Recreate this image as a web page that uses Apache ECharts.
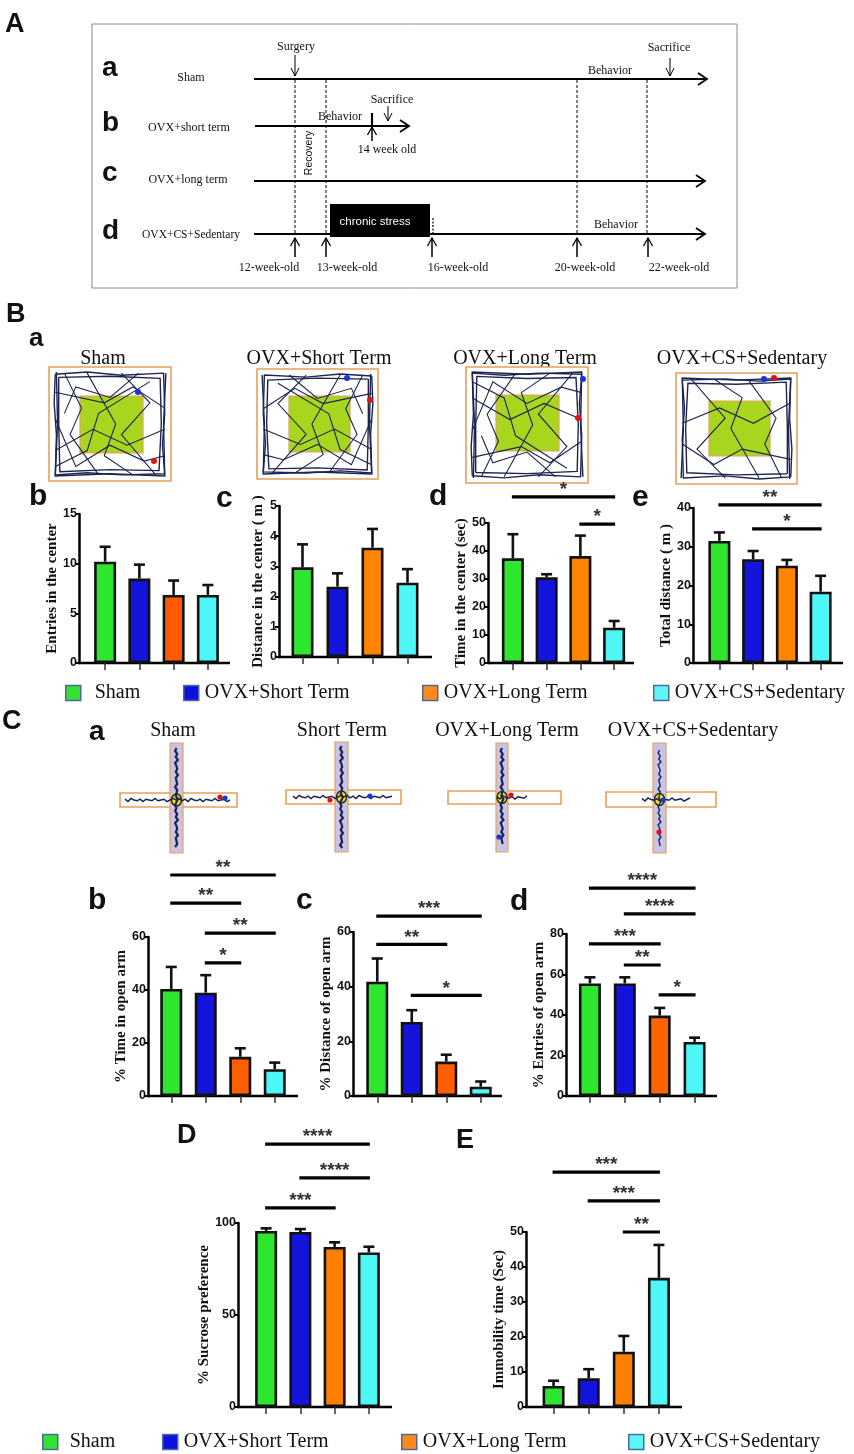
<!DOCTYPE html>
<html><head><meta charset="utf-8">
<script src="https://cdn.jsdelivr.net/npm/echarts@6/dist/echarts.min.js"></script>
<style>html,body{margin:0;padding:0;background:#fff}#c{width:854px;height:1454px}</style>
</head><body><div id="c"></div>
<script>
// ---------- data ----------
const groups = ['Sham', 'OVX+Short Term', 'OVX+Long Term', 'OVX+CS+Sedentary'];
// B: open field test
const ofEntriesMean = [10.2, 8.5, 6.85, 6.85];
const ofEntriesSem = [1.5, 1.4, 1.45, 1.0];
const ofCenterDistMean = [2.97, 2.33, 3.62, 2.46];
const ofCenterDistSem = [0.76, 0.44, 0.62, 0.45];
const ofCenterTimeMean = [37.4, 30.6, 38.2, 12.6];
const ofCenterTimeSem = [8.6, 1.1, 7.3, 2.4];
const ofTotalDistMean = [31.5, 26.8, 25.1, 18.4];
const ofTotalDistSem = [2.2, 2.1, 1.5, 4.1];
// C: plus maze
const epmTimeMean = [40.4, 39.0, 14.8, 10.1];
const epmTimeSem = [8.3, 6.6, 3.2, 2.5];
const epmDistMean = [41.8, 27.1, 12.6, 3.4];
const epmDistSem = [8.5, 4.3, 2.5, 1.9];
const epmEntriesMean = [55.6, 55.6, 39.7, 26.7];
const epmEntriesSem = [3.0, 3.0, 3.8, 2.1];
// D: sucrose preference
const sucroseMean = [95.7, 95.1, 87.0, 84.0];
const sucroseSem = [1.4, 1.6, 2.5, 3.1];
// E: forced swim immobility
const immobilityMean = [6.0, 8.2, 15.8, 36.9];
const immobilitySem = [1.5, 2.6, 4.5, 9.4];
// significance brackets: [from group, to group, bracket height (axis units), stars]
const sigEntries = [];
const sigCenterDist = [];
const sigCenterTime = [[0, 3, 59.3, '*'], [2, 3, 49.6, '*']];
const sigTotalDist = [[0, 3, 40.8, '**'], [1, 3, 34.6, '*']];
const sigEpmTime = [[0, 3, 83.4, '**'], [0, 2, 72.8, '**'], [1, 3, 61.5, '**'], [1, 2, 50.2, '*']];
const sigEpmDist = [[0, 3, 65.8, '***'], [0, 2, 55.5, '**'], [1, 3, 36.8, '*']];
const sigEpmEntries = [[0, 3, 102.7, '****'], [1, 3, 89.9, '****'], [0, 2, 75.1, '***'], [1, 2, 64.7, '**'], [2, 3, 49.9, '*']];
const sigSucrose = [[0, 3, 142.9, '****'], [1, 3, 124.5, '****'], [0, 2, 108.2, '***']];
const sigImmobility = [[0, 3, 67.1, '***'], [1, 3, 58.9, '***'], [2, 3, 50, '**']];
// y-axis tick labels
const ticksEntries = [0, 5, 10, 15];
const ticksCenterDist = [0, 1, 2, 3, 4, 5];
const ticksCenterTime = [0, 10, 20, 30, 40, 50];
const ticksTotalDist = [0, 10, 20, 30, 40];
const ticksEpmTime = [0, 20, 40, 60];
const ticksEpmDist = [0, 20, 40, 60];
const ticksEpmEntries = [0, 20, 40, 60, 80];
const ticksSucrose = [0, 50, 100];
const ticksImmobility = [0, 10, 20, 30, 40, 50];
// timeline labels
const timelineWeeks = ['12-week-old', '13-week-old', '16-week-old', '20-week-old', '22-week-old'];

// ---------- styles / layout ----------
const GREEN = '#2ee62e', BLUE = '#1414dc', CYAN = '#4ff6f6';
const panels = [
  {mean: ofEntriesMean, sem: ofEntriesSem, sig: sigEntries, ticks: ticksEntries, name: 'Entries in the center', left: 88, top: 514, width: 137, height: 149, axisX: 79, axisEnd: 230, gap: 16, orange: '#ff5a00'},
  {mean: ofCenterDistMean, sem: ofCenterDistSem, sig: sigCenterDist, ticks: ticksCenterDist, name: 'Distance in the center ( m )', left: 285, top: 506, width: 140, height: 151, axisX: 279, axisEnd: 432, gap: 13, orange: '#ff8400'},
  {mean: ofCenterTimeMean, sem: ofCenterTimeSem, sig: sigCenterTime, ticks: ticksCenterTime, name: 'Time in the center (sec)', left: 496, top: 523, width: 135, height: 140, axisX: 488, axisEnd: 634, gap: 18, orange: '#ff8400'},
  {mean: ofTotalDistMean, sem: ofTotalDistSem, sig: sigTotalDist, ticks: ticksTotalDist, name: 'Total distance ( m )', left: 702.5, top: 508, width: 135, height: 155, axisX: 693, axisEnd: 843, gap: 15, orange: '#ff8400'},
  {mean: epmTimeMean, sem: epmTimeSem, sig: sigEpmTime, ticks: ticksEpmTime, name: '% Time in open arm', left: 154, top: 937, width: 138, height: 159, axisX: 148, axisEnd: 298, gap: 18, orange: '#ff5f00'},
  {mean: epmDistMean, sem: epmDistSem, sig: sigEpmDist, ticks: ticksEpmDist, name: '% Distance of open arm', left: 360, top: 932, width: 138, height: 164, axisX: 353, axisEnd: 502, gap: 18, orange: '#ff5f00'},
  {mean: epmEntriesMean, sem: epmEntriesSem, sig: sigEpmEntries, ticks: ticksEpmEntries, name: '% Entries of open arm', left: 572.5, top: 934, width: 139.5, height: 162, axisX: 566, axisEnd: 717, gap: 17, orange: '#ff6400'},
  {mean: sucroseMean, sem: sucroseSem, sig: sigSucrose, ticks: ticksSucrose, name: '% Sucrose preference', left: 249, top: 1223, width: 137, height: 184, axisX: 238, axisEnd: 392, gap: 19, orange: '#ff8000'},
  {mean: immobilityMean, sem: immobilitySem, sig: sigImmobility, ticks: ticksImmobility, name: 'Immobility time (Sec)', left: 536, top: 1232, width: 140.5, height: 175, axisX: 526, axisEnd: 682, gap: 14, orange: '#ff8000'}
];

const grid = [], xAxis = [], yAxis = [], series = [];
const graphic = [];
const SERIF = '"Liberation Serif", "Times New Roman", serif';
const SANS = '"Liberation Sans", Arial, sans-serif';

panels.forEach((p, i) => {
  grid.push({left: p.left, top: p.top, width: p.width, height: p.height, containLabel: false, outerBoundsMode: 'none'});
  xAxis.push({gridIndex: i, type: 'category', data: groups, boundaryGap: true,
    axisLine: {show: false}, axisLabel: {show: false, interval: 0},
    axisTick: {show: true, interval: 0, alignWithLabel: true, length: 7, lineStyle: {color: '#333', width: 1.5}}});
  yAxis.push({gridIndex: i, type: 'value', min: p.ticks[0], max: p.ticks[p.ticks.length - 1],
    interval: p.ticks[1] - p.ticks[0], offset: p.left - p.axisX,
    axisLine: {show: true, lineStyle: {color: '#000', width: 2.5}},
    axisTick: {show: true, length: 4, lineStyle: {color: '#000', width: 2}},
    splitLine: {show: false},
    axisLabel: {fontFamily: '"Liberation Sans Narrow", "Liberation Sans", sans-serif', fontWeight: 'bold', fontSize: 12.5, color: '#111', margin: 2},
    name: p.name, nameLocation: 'middle', nameGap: p.gap,
    nameTextStyle: {fontFamily: SERIF, fontWeight: 'bold', fontSize: 15, color: '#111'}});
  const cols = [GREEN, BLUE, p.orange, CYAN];
  series.push({type: 'bar', xAxisIndex: i, yAxisIndex: i, barWidth: 22, silent: true,
    data: p.mean.map((v, j) => ({value: v, itemStyle: {color: cols[j], borderColor: '#111', borderWidth: 2.6}})),
    z: 2});
  series.push({type: 'custom', xAxisIndex: i, yAxisIndex: i, silent: true, clip: false, z: 3,
    data: p.mean.map((v, j) => [j, v, v + p.sem[j]]),
    encode: {x: 0, y: [1, 2]},
    renderItem: (params, api) => {
      const x = api.value(0);
      const a = api.coord([x, api.value(1)]), b = api.coord([x, api.value(2)]);
      return {type: 'group', children: [
        {type: 'line', shape: {x1: a[0], y1: a[1], x2: b[0], y2: b[1]}, style: {stroke: '#111', lineWidth: 2.6}},
        {type: 'line', shape: {x1: b[0] - 5.5, y1: b[1], x2: b[0] + 5.5, y2: b[1]}, style: {stroke: '#111', lineWidth: 2.6}}
      ]};
    }});
  if (p.sig.length) {
    series.push({type: 'custom', xAxisIndex: i, yAxisIndex: i, silent: true, clip: false, z: 3,
      data: p.sig.map(s => [s[0], s[1], s[2]]),
      encode: {x: [0, 1], y: 2},
      renderItem: (params, api) => {
        const y = api.value(2);
        const a = api.coord([api.value(0), y]), b = api.coord([api.value(1), y]);
        const label = p.sig[params.dataIndex][3];
        return {type: 'group', children: [
          {type: 'line', shape: {x1: a[0] - 1, y1: a[1], x2: b[0] + 1, y2: b[1]}, style: {stroke: '#000', lineWidth: 3.2}},
          {type: 'text', style: {text: label, x: (a[0] + b[0]) / 2, y: a[1] - 7, align: 'center', verticalAlign: 'middle',
            font: 'bold 19px ' + SANS, fill: '#333'}}
        ]};
      }});
  }
  // extended x baseline (axis line spans from y-axis to the right end)
  graphic.push({type: 'line', silent: true, shape: {x1: p.axisX - 1, y1: p.top + p.height, x2: p.axisEnd, y2: p.top + p.height},
    style: {stroke: '#000', lineWidth: 2.5}});
});

// dummy series for legends
const legendColors = ['#33e033', '#0f0fe0', '#ff8a1a', '#5cf6f6'];
groups.forEach((g, i) => series.push({type: 'line', name: g, data: [], xAxisIndex: 0, yAxisIndex: 0, itemStyle: {color: legendColors[i]}}));
const legend = [];
[{cy: 693, lefts: [65, 183, 422, 653], pad: 9}, {cy: 1442, lefts: [42, 162, 401, 628], pad: 7}].forEach(row => {
  row.lefts.forEach((lx, i) => legend.push({left: lx, top: row.cy - 10, padding: 0, selectedMode: false,
    itemWidth: 15, itemHeight: 15,
    data: [{name: groups[i], icon: 'rect', itemStyle: {color: legendColors[i], borderColor: '#4d6b9a', borderWidth: 1.5}}],
    textStyle: {fontFamily: SERIF, fontSize: 20, color: '#111', padding: [0, 0, 0, i === 0 ? row.pad : 1]}}));
});

// ---------- drawing helpers ----------
const L = (x1, y1, x2, y2, w, dash, color) => ({type: 'line', silent: true, shape: {x1, y1, x2, y2}, style: {stroke: color || '#000', lineWidth: w || 1, lineDash: dash || null}});
const PL = (points, w, color) => ({type: 'polyline', silent: true, shape: {points}, style: {stroke: color || '#000', lineWidth: w || 1, fill: null}});
const T = (text, x, y, font, align, extra) => Object.assign({type: 'text', silent: true, x, y,
  style: {text, font, fill: '#111', align: align || 'left', verticalAlign: 'middle'}}, extra || {});
const R = (x, y, w, h, fill, stroke, lw) => ({type: 'rect', silent: true, shape: {x, y, width: w, height: h}, style: {fill, stroke: stroke || null, lineWidth: lw || 1}});
const C = (cx, cy, r, fill) => ({type: 'circle', silent: true, shape: {cx, cy, r}, style: {fill}});
const headR = (x, y) => PL([[x - 9, y - 6], [x, y], [x - 9, y + 6]], 1.8);
const headUp = (x, y) => PL([[x - 4.5, y + 8], [x, y], [x + 4.5, y + 8]], 1.3);
const headDown = (x, y) => PL([[x - 4, y - 8], [x, y], [x + 4, y - 8]], 1);

// ---------- panel letters ----------
const big = 'bold 27px ' + SANS, mid = 'bold 30px ' + SANS;
graphic.push(T('A', 5, 25, big), T('B', 6, 315, big), T('C', 2, 722, big), T('D', 177, 1136, big), T('E', 456, 1141, big));
graphic.push(T('a', 29, 339, 'bold 26px ' + SANS), T('a', 89, 732, 'bold 28px ' + SANS));
graphic.push(T('b', 29, 497, mid), T('c', 216, 499, mid), T('d', 429, 497, mid), T('e', 632, 498, mid));
graphic.push(T('b', 88, 901, mid), T('c', 296, 901, mid), T('d', 510, 902, mid));

// ---------- panel A: timeline ----------
const tf = '12px ' + SERIF;
graphic.push(R(92, 24, 645, 264, '#fff', '#8a8a8a', 1));
graphic.push(T('a', 102, 68, 'bold 28px ' + SANS), T('b', 102, 123, 'bold 28px ' + SANS), T('c', 102, 173, 'bold 28px ' + SANS), T('d', 102, 231, 'bold 28px ' + SANS));
graphic.push(T('Sham', 191, 78, tf, 'center'), T('OVX+short term', 189, 128, tf, 'center'), T('OVX+long term', 188, 180, tf, 'center'), T('OVX+CS+Sedentary', 191, 235, '11.5px ' + SERIF, 'center'));
graphic.push(L(254, 79, 705, 79, 2.2), headR(707, 79));
graphic.push(L(255, 126, 407, 126, 2.2), headR(409, 126));
graphic.push(L(254, 181, 703, 181, 2), headR(705, 181));
graphic.push(L(254, 234, 703, 234, 2), headR(705, 234));
[295, 326, 577, 647].forEach(x => graphic.push(L(x, 80, x, 233, 1, [3, 2])));
graphic.push(L(433, 218, 433, 233, 1.2, [2, 1.5]));
graphic.push(T('Surgery', 296, 47, tf, 'center'), L(295, 55, 295, 76, 1), headDown(295, 76));
graphic.push(T('Sacrifice', 669, 48, tf, 'center'), L(670, 58, 670, 76, 1), headDown(670, 76));
graphic.push(T('Behavior', 610, 71, tf, 'center'), T('Behavior', 340, 117, tf, 'center'), T('Behavior', 616, 225, tf, 'center'));
graphic.push(T('Sacrifice', 392, 100, tf, 'center'), L(388, 106, 388, 121, 1), headDown(388, 121));
graphic.push(L(372, 113, 372, 126, 2.2), L(372, 127, 372, 141, 1.5), headUp(372, 127));
graphic.push(T('14 week old', 387, 150, tf, 'center'));
graphic.push(T('Recovery', 309, 153, '10.5px ' + SANS, 'center', {rotation: Math.PI / 2}));
graphic.push(R(330, 204, 100, 33, '#000'), T('chronic stress', 375, 222, '11.5px ' + SANS, 'center'));
graphic[graphic.length - 1].style.fill = '#fff';
const weekX = [295, 326, 432, 577, 648], weekLabelX = [269, 347, 458, 585, 679];
weekX.forEach((x, i) => {
  graphic.push(L(x, 238, x, 257, 1.5), headUp(x, 238));
  graphic.push(T(timelineWeeks[i], weekLabelX[i], 268, tf, 'center'));
});

// ---------- panel B a: open-field tracks ----------
const tracks = [
  [[0.02,0.03],[0.3,0.01],[0.6,0.04],[0.97,0.02],[0.98,0.4],[0.96,0.7],[0.98,0.97],[0.6,0.98],[0.3,0.96],[0.02,0.98],[0.03,0.6],[0.01,0.3],[0.02,0.03]],
  [[0.05,0.06],[0.5,0.05],[0.94,0.07],[0.95,0.5],[0.93,0.94],[0.5,0.93],[0.06,0.95],[0.05,0.5],[0.05,0.06]],
  [[0.03,0.01],[0.04,0.5],[0.02,0.99],[0.5,0.97],[0.98,0.99],[0.97,0.5],[0.99,0.02]],
  [[0.1,0.02],[0.25,0.35],[0.15,0.6],[0.4,0.98]],
  [[0.02,0.2],[0.45,0.3],[0.7,0.15],[0.98,0.35]],
  [[0.3,0.02],[0.55,0.5],[0.45,0.8],[0.7,0.98]],
  [[0.02,0.75],[0.35,0.55],[0.65,0.7],[0.98,0.55]],
  [[0.6,0.02],[0.85,0.3],[0.6,0.6],[0.9,0.98]],
  [[0.02,0.45],[0.2,0.9],[0.5,0.7],[0.8,0.85],[0.98,0.8]],
  [[0.75,0.02],[0.5,0.25],[0.2,0.15],[0.1,0.4]],
  [[0.02,0.9],[0.3,0.75],[0.4,0.4],[0.85,0.1]]
];
const ofBoxes = [
  {x: 49, y: 367, w: 122, h: 114, g: [80, 396, 63, 57], blue: [138, 392], red: [154, 461], fx: false, fy: false, title: 'Sham', tx: 103},
  {x: 257, y: 369, w: 121, h: 110, g: [289, 396, 61, 56], blue: [347, 378], red: [370, 400], fx: true, fy: false, title: 'OVX+Short Term', tx: 319},
  {x: 466, y: 367, w: 122, h: 116, g: [496, 395, 63, 56], blue: [583, 379], red: [578, 418], fx: false, fy: true, title: 'OVX+Long Term', tx: 525},
  {x: 676, y: 373, w: 121, h: 111, g: [709, 401, 61, 55], blue: [764, 379], red: [774, 378], fx: true, fy: true, title: 'OVX+CS+Sedentary', tx: 742}
];
const ORG = '#e7a05a', NAVY = '#1d2450';
ofBoxes.forEach((b, k) => {
  graphic.push(T(b.title, b.tx, 359, '20px ' + SERIF, 'center'));
  graphic.push(R(b.x, b.y, b.w, b.h, '#fff', ORG, 1.6));
  graphic.push(R(b.g[0], b.g[1], b.g[2], b.g[3], '#a8d61e', ORG, 1.2));
  const ix = b.x + 4, iy = b.y + 4, iw = b.w - 8, ih = b.h - 8;
  tracks.forEach((path, pi) => {
    if (k === 3 && pi > 7) return;
    const pts = path.map(([u, v]) => [ix + (b.fx ? 1 - u : u) * iw, iy + (b.fy ? 1 - v : v) * ih]);
    graphic.push(PL(pts, pi < 3 ? 1.4 : 1.1, NAVY));
  });
  graphic.push(C(b.blue[0], b.blue[1], 3, '#1a35d6'), C(b.red[0], b.red[1], 3, '#e31212'));
});

// ---------- panel C a: plus maze ----------
const wig = [0, -2, 1, -1, 2, -2, 0, 1, -1, 2, -1, 0, 1, -2, 1, 0, -1, 2, 0, -2];
const mazes = [
  {title: 'Sham', tx: 173, vx: 170, vy: 743, vw: 13, vh: 110, hx: 120, hy: 793, hw: 117, hh: 14, t0: 125, t1: 232, vt0: 748, vt1: 848, red: [220, 797], blue: [225, 798]},
  {title: 'Short Term', tx: 342, vx: 335, vy: 742, vw: 13, vh: 110, hx: 286, hy: 790, hw: 115, hh: 14, t0: 293, t1: 392, vt0: 746, vt1: 848, red: [330, 800], blue: [370, 796]},
  {title: 'OVX+Long Term', tx: 507, vx: 496, vy: 743, vw: 12, vh: 109, hx: 448, hy: 791, hw: 113, hh: 13, t0: 497, t1: 528, vt0: 748, vt1: 846, red: [511, 795], blue: [499, 837]},
  {title: 'OVX+CS+Sedentary', tx: 693, vx: 653, vy: 743, vw: 13, vh: 110, hx: 606, hy: 792, hw: 110, hh: 15, t0: 642, t1: 690, vt0: 750, vt1: 846, red: [659, 832], blue: [663, 800]}
];
mazes.forEach((m, k) => {
  graphic.push(T(m.title, m.tx, 731, '20px ' + SERIF, 'center'));
  graphic.push(R(m.hx, m.hy, m.hw, m.hh, '#fff', ORG, 1.6));
  graphic.push(R(m.vx, m.vy, m.vw, m.vh, '#c9c3e5', ORG, 1.2));
  const cx = m.vx + m.vw / 2, cy = m.hy + m.hh / 2;
  graphic.push({type: 'ellipse', silent: true, shape: {cx, cy, rx: 6, ry: 7}, style: {fill: '#f2e21a'}});
  const vpts = [];
  for (let y = m.vt0, n = 0; y <= m.vt1; y += 3, n++) vpts.push([cx + wig[n % wig.length] * 0.7, y]);
  graphic.push(PL(vpts, k === 3 ? 1.4 : 2.2, NAVY));
  const hpts = [];
  for (let x = m.t0, n = 3; x <= m.t1; x += 3, n++) hpts.push([x, cy + wig[n % wig.length] * 0.8]);
  graphic.push(PL(hpts, 1.5, NAVY));
  graphic.push({type: 'ellipse', silent: true, shape: {cx, cy, rx: 5, ry: 6}, style: {fill: null, stroke: NAVY, lineWidth: 1.5}});
  graphic.push(C(m.red[0], m.red[1], 2.6, '#e31212'), C(m.blue[0], m.blue[1], 2.6, '#1a35d6'));
});

const chart = echarts.init(document.getElementById('c'), null, {renderer: 'canvas'});
chart.setOption({
  backgroundColor: '#fff',
  animation: false,
  grid, xAxis, yAxis, series, legend,
  graphic: {elements: graphic}
});
</script></body></html>
